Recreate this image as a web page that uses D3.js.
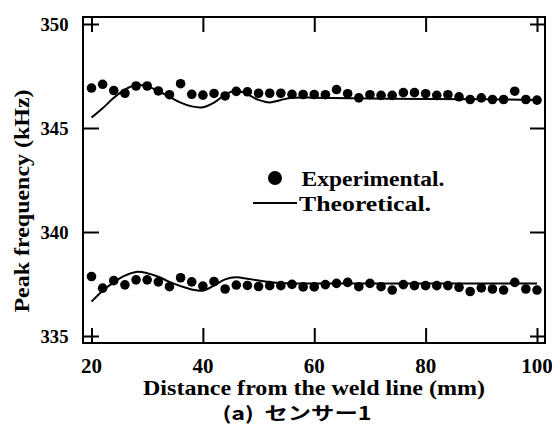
<!DOCTYPE html>
<html>
<head>
<meta charset="utf-8">
<script src="https://cdn.jsdelivr.net/npm/d3@7/dist/d3.min.js"></script>
<style>
  body { margin: 0; background: #fff; }
  svg text { font-family: "Liberation Serif", "Times New Roman", serif; font-weight: bold; fill: #000; }
</style>
</head>
<body>
<div id="chart"></div>
<script>
// distance (mm) of the measurement points
const distExp = d3.range(20, 101, 2);
// experimental peak frequency (kHz)
const upperExp = [346.92, 347.1, 346.8, 346.67, 347.02, 347.02, 346.78, 346.6, 347.13, 346.62,
  346.58, 346.66, 346.54, 346.76, 346.74, 346.67, 346.67, 346.67, 346.62, 346.61, 346.61,
  346.6, 346.85, 346.65, 346.45, 346.6, 346.57, 346.57, 346.7, 346.7, 346.65,
  346.57, 346.6, 346.5, 346.37, 346.45, 346.37, 346.37, 346.77, 346.37, 346.34];
const lowerExp = [337.86, 337.3, 337.66, 337.46, 337.7, 337.7, 337.6, 337.37, 337.8, 337.6,
  337.4, 337.62, 337.26, 337.45, 337.43, 337.38, 337.42, 337.42, 337.48, 337.36, 337.36,
  337.47, 337.53, 337.58, 337.37, 337.53, 337.37, 337.21, 337.47, 337.42, 337.42,
  337.42, 337.42, 337.34, 337.14, 337.31, 337.26, 337.21, 337.58, 337.26, 337.21];
// theoretical curves
const distTheo = [20, 22, 24, 26, 28, 30, 32, 34, 36, 38, 40, 42, 44, 46, 48, 50, 52, 54, 56, 58, 60, 70, 80, 90, 100];
const upperTheo = [345.5, 345.95, 346.45, 346.85, 347.07, 347.0, 346.78, 346.5, 346.22, 346.04, 346.0,
  346.22, 346.6, 346.8, 346.62, 346.35, 346.23, 346.35, 346.45, 346.47, 346.45, 346.42, 346.4, 346.38, 346.35];
const lowerTheo = [336.65, 337.18, 337.58, 337.9, 338.08, 338.02, 337.85, 337.6, 337.4, 337.24, 337.18,
  337.42, 337.72, 337.82, 337.75, 337.67, 337.6, 337.55, 337.53, 337.52, 337.52, 337.52, 337.52, 337.52, 337.52];

const xTicks = [20, 40, 60, 80, 100];
const yTicks = [335, 340, 345, 350];

const W = 552, H = 424;
const frame = { left: 83, right: 545, top: 17, bottom: 343 };

const svg = d3.select("#chart").append("svg")
  .attr("width", W).attr("height", H);

const x = d3.scaleLinear().domain([20, 100]).range([91.5, 537]);
const y = d3.scaleLinear().domain([335, 350]).range([336, 24]);

// ticks on all four sides, pointing inward
const tickLen = 15;
svg.append("g").attr("transform", `translate(0,${frame.bottom})`)
  .call(d3.axisBottom(x).tickValues(xTicks).tickSize(-tickLen).tickFormat(""));
svg.append("g").attr("transform", `translate(0,${frame.top})`)
  .call(d3.axisTop(x).tickValues(xTicks).tickSize(-tickLen).tickFormat(""));
svg.append("g").attr("transform", `translate(${frame.left},0)`)
  .call(d3.axisLeft(y).tickValues(yTicks).tickSize(-tickLen - 1).tickFormat(""));
svg.append("g").attr("transform", `translate(${frame.right},0)`)
  .call(d3.axisRight(y).tickValues(yTicks).tickSize(-tickLen).tickFormat(""));
svg.selectAll(".domain").remove();
svg.selectAll(".tick line").attr("stroke", "#000").attr("stroke-width", 2);

svg.append("rect")
  .attr("x", frame.left).attr("y", frame.top)
  .attr("width", frame.right - frame.left).attr("height", frame.bottom - frame.top)
  .attr("fill", "none").attr("stroke", "#000").attr("stroke-width", 2);

// tick labels
svg.selectAll(".xl").data(xTicks).enter().append("text")
  .attr("x", d => x(d)).attr("y", 373)
  .attr("text-anchor", "middle").style("font-size", "20px")
  .attr("textLength", d => String(d).length * 10.5)
  .attr("lengthAdjust", "spacingAndGlyphs")
  .text(d => d);
svg.selectAll(".yl").data(yTicks).enter().append("text")
  .attr("x", 68.5).attr("y", d => y(d) + 7)
  .attr("text-anchor", "end").style("font-size", "19px")
  .attr("textLength", 28).attr("lengthAdjust", "spacingAndGlyphs")
  .text(d => d);

// axis titles
svg.append("text")
  .attr("x", (frame.left + frame.right) / 2).attr("y", 395)
  .attr("text-anchor", "middle").style("font-size", "20px")
  .attr("textLength", 342).attr("lengthAdjust", "spacingAndGlyphs")
  .text("Distance from the weld line (mm)");
svg.append("text")
  .attr("transform", "translate(29,201) rotate(-90)")
  .attr("text-anchor", "middle").style("font-size", "20px")
  .attr("textLength", 223).attr("lengthAdjust", "spacingAndGlyphs")
  .text("Peak frequency (kHz)");

// caption
svg.append("text")
  .attr("x", 297).attr("y", 420)
  .attr("text-anchor", "middle")
  .style("font-family", "'Noto Sans CJK JP', sans-serif")
  .style("font-weight", "bold").style("font-size", "18px")
  .attr("textLength", 149).attr("lengthAdjust", "spacingAndGlyphs")
  .attr("xml:space", "preserve")
  .text("(a)  センサー1");

// theoretical lines
const line = d3.line()
  .x(d => x(d[0])).y(d => y(d[1]))
  .curve(d3.curveCatmullRom);
[upperTheo, lowerTheo].forEach(s => {
  svg.append("path")
    .attr("d", line(distTheo.map((d, i) => [d, s[i]])))
    .attr("fill", "none").attr("stroke", "#000").attr("stroke-width", 2);
});

// experimental dots
[upperExp, lowerExp].forEach(s => {
  svg.append("g").selectAll("circle")
    .data(distExp.map((d, i) => [d, s[i]]))
    .enter().append("circle")
    .attr("cx", d => x(d[0])).attr("cy", d => y(d[1]))
    .attr("r", 4.8).attr("fill", "#000");
});

// legend
svg.append("circle").attr("cx", 275).attr("cy", 178).attr("r", 7).attr("fill", "#000");
svg.append("text").attr("x", 301.5).attr("y", 186).style("font-size", "22px")
  .attr("textLength", 143).attr("lengthAdjust", "spacingAndGlyphs")
  .text("Experimental.");
svg.append("line").attr("x1", 253).attr("x2", 297).attr("y1", 203).attr("y2", 203)
  .attr("stroke", "#000").attr("stroke-width", 2);
svg.append("text").attr("x", 299).attr("y", 211).style("font-size", "22px")
  .attr("textLength", 132).attr("lengthAdjust", "spacingAndGlyphs")
  .text("Theoretical.");
</script>
</body>
</html>
